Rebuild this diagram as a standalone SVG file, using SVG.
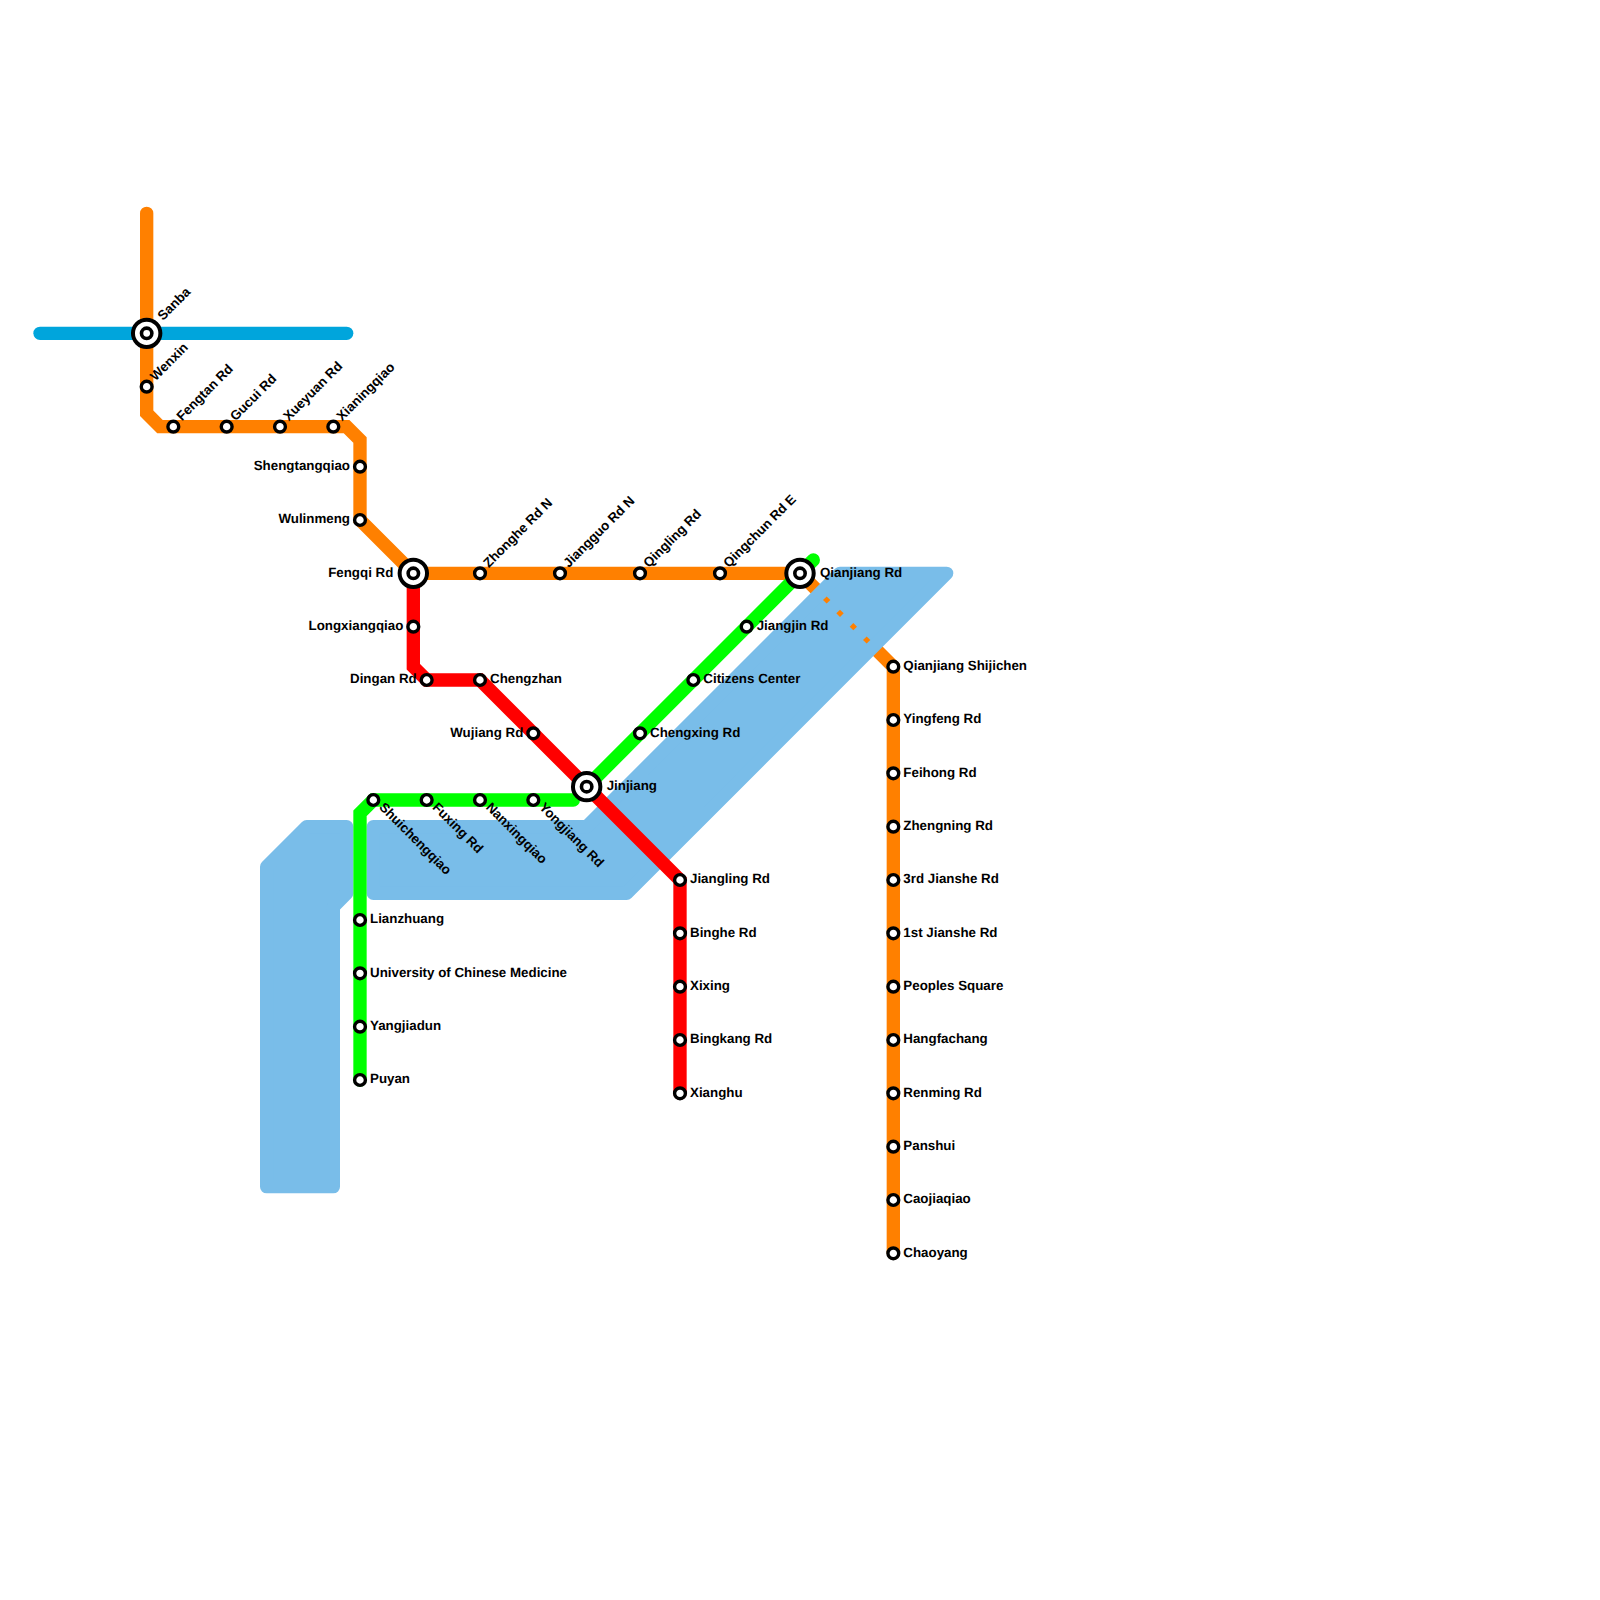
<svg xmlns="http://www.w3.org/2000/svg" width="1600" height="1600" viewBox="0 0 1600 1600">
<style>
.l{fill:none;stroke-width:13.33;stroke-linecap:round;stroke-linejoin:miter}
.w{fill:#79bde9;stroke:#79bde9;stroke-width:13.33;stroke-linejoin:round}
.s{fill:#fff;stroke:#000;stroke-width:3.4}
.o{fill:#fff;stroke:#000;stroke-width:4}
.i{fill:#fff;stroke:#000;stroke-width:3.6}
text{font-family:"Liberation Sans",Arial,sans-serif;font-size:13.33px;font-weight:700;fill:#000;text-rendering:geometricPrecision}
.e{text-anchor:end}
</style>
<defs>
<g id="st"><circle class="s" r="5.4"/></g>
<g id="ic"><circle class="o" r="13.7"/><circle class="i" r="5.2"/></g>
</defs>
<g id="connectors">
<path class="l" stroke="#ff8000" d="M800 573.33L893.33 666.67V1253.33"/>
<path class="w" d="M266.67 866.67L306.67 826.67H346.67V893.33L333.33 906.67V1186.67H266.67Z"/>
<path class="w" d="M373.33 826.67H586.67L840 573.33H946.67L626.67 893.33H373.33Z"/>
<path class="l" stroke="#00a5dc" d="M40 333.33H346.67"/>
<path class="l" stroke="#ff8000" d="M146.67 213.33V413.33L160 426.67H346.67L360 440V520L413.33 573.33H800"/>
<path class="l" stroke="#ff0000" d="M413.33 573.33V666.67L426.67 680H480L680 880V1093.33"/>
<path class="l" stroke="#00ff00" d="M360 1080V813.33L373.33 800H573.33M586.67 786.67L813.33 560"/>
<g fill="#ff8000"><path d="M826.67 596.4L830.4 600L826.67 603.6L823 600Z"/><path d="M840 609.7L843.7 613.33L840 617L836.3 613.33Z"/><path d="M853.33 623L857 626.67L853.33 630.3L849.7 626.67Z"/><path d="M866.67 636.4L870.3 640L866.67 643.6L863 640Z"/></g>
</g>
<g id="stations">
<g id="sanba"><use href="#ic" x="146.67" y="333.33"/><text transform="translate(163 321) rotate(-45)">Sanba</text></g>
<g id="wenxin"><use href="#st" x="146.67" y="386.67"/><text transform="translate(155.5 381.5) rotate(-45)">Wenxin</text></g>
<g id="fengtan"><use href="#st" x="173.33" y="426.67"/><text transform="translate(182 421.5) rotate(-45)">Fengtan Rd</text></g>
<g id="gucui"><use href="#st" x="226.67" y="426.67"/><text transform="translate(235.4 421.5) rotate(-45)">Gucui Rd</text></g>
<g id="xueyuan"><use href="#st" x="280" y="426.67"/><text transform="translate(288.7 421.5) rotate(-45)">Xueyuan Rd</text></g>
<g id="xianingqiao"><use href="#st" x="333.33" y="426.67"/><text transform="translate(342 421.5) rotate(-45)">Xianingqiao</text></g>
<g id="shengtangqiao"><use href="#st" x="360" y="466.67"/><text class="e" x="350" y="470">Shengtangqiao</text></g>
<g id="wulinmeng"><use href="#st" x="360" y="520"/><text class="e" x="350" y="523.33">Wulinmeng</text></g>
<g id="fengqi"><use href="#ic" x="413.33" y="573.33"/><text class="e" x="393.33" y="576.67">Fengqi Rd</text></g>
<g id="zhonghe"><use href="#st" x="480" y="573.33"/><text transform="translate(488.7 568.2) rotate(-45)">Zhonghe Rd N</text></g>
<g id="jiangguo"><use href="#st" x="560" y="573.33"/><text transform="translate(568.7 568.2) rotate(-45)">Jiangguo Rd N</text></g>
<g id="qingling"><use href="#st" x="640" y="573.33"/><text transform="translate(648.7 568.2) rotate(-45)">Qingling Rd</text></g>
<g id="qingchun"><use href="#st" x="720" y="573.33"/><text transform="translate(728.7 568.2) rotate(-45)">Qingchun Rd E</text></g>
<g id="qianjiang"><use href="#ic" x="800" y="573.33"/><text x="820" y="576.67">Qianjiang Rd</text></g>
<g id="longxiangqiao"><use href="#st" x="413.33" y="626.67"/><text class="e" x="403.33" y="630">Longxiangqiao</text></g>
<g id="dingan"><use href="#st" x="426.67" y="680"/><text class="e" x="416.67" y="683.33">Dingan Rd</text></g>
<g id="chengzhan"><use href="#st" x="480" y="680"/><text x="490" y="683.33">Chengzhan</text></g>
<g id="wujiang"><use href="#st" x="533.33" y="733.33"/><text class="e" x="523.33" y="736.67">Wujiang Rd</text></g>
<g id="jinjiang"><use href="#ic" x="586.67" y="786.67"/><text x="606.67" y="790">Jinjiang</text></g>
<g id="jiangling"><use href="#st" x="680" y="880"/><text x="690" y="883.33">Jiangling Rd</text></g>
<g id="binghe"><use href="#st" x="680" y="933.33"/><text x="690" y="936.67">Binghe Rd</text></g>
<g id="xixing"><use href="#st" x="680" y="986.67"/><text x="690" y="990">Xixing</text></g>
<g id="bingkang"><use href="#st" x="680" y="1040"/><text x="690" y="1043.33">Bingkang Rd</text></g>
<g id="xianghu"><use href="#st" x="680" y="1093.33"/><text x="690" y="1096.67">Xianghu</text></g>
<g id="shuichengqiao"><use href="#st" x="373.33" y="800"/><text transform="translate(378.5 808) rotate(45)">Shuichengqiao</text></g>
<g id="fuxing"><use href="#st" x="426.67" y="800"/><text transform="translate(431.8 808) rotate(45)">Fuxing Rd</text></g>
<g id="nanxingqiao"><use href="#st" x="480" y="800"/><text transform="translate(485.2 808) rotate(45)">Nanxingqiao</text></g>
<g id="yongjiang"><use href="#st" x="533.33" y="800"/><text transform="translate(538.5 808) rotate(45)">Yongjiang Rd</text></g>
<g id="lianzhuang"><use href="#st" x="360" y="920"/><text x="370" y="923.33">Lianzhuang</text></g>
<g id="university"><use href="#st" x="360" y="973.33"/><text x="370" y="976.67">University of Chinese Medicine</text></g>
<g id="yangjiadun"><use href="#st" x="360" y="1026.67"/><text x="370" y="1030">Yangjiadun</text></g>
<g id="puyan"><use href="#st" x="360" y="1080"/><text x="370" y="1083.33">Puyan</text></g>
<g id="chengxing"><use href="#st" x="640" y="733.33"/><text x="650" y="736.67">Chengxing Rd</text></g>
<g id="citizens"><use href="#st" x="693.33" y="680"/><text x="703.33" y="683.33">Citizens Center</text></g>
<g id="jiangjin"><use href="#st" x="746.67" y="626.67"/><text x="756.67" y="630">Jiangjin Rd</text></g>
<g id="shijichen"><use href="#st" x="893.33" y="666.67"/><text x="903.33" y="670">Qianjiang Shijichen</text></g>
<g id="yingfeng"><use href="#st" x="893.33" y="720"/><text x="903.33" y="723.33">Yingfeng Rd</text></g>
<g id="feihong"><use href="#st" x="893.33" y="773.33"/><text x="903.33" y="776.67">Feihong Rd</text></g>
<g id="zhengning"><use href="#st" x="893.33" y="826.67"/><text x="903.33" y="830">Zhengning Rd</text></g>
<g id="jianshe3"><use href="#st" x="893.33" y="880"/><text x="903.33" y="883.33">3rd Jianshe Rd</text></g>
<g id="jianshe1"><use href="#st" x="893.33" y="933.33"/><text x="903.33" y="936.67">1st Jianshe Rd</text></g>
<g id="peoples"><use href="#st" x="893.33" y="986.67"/><text x="903.33" y="990">Peoples Square</text></g>
<g id="hangfachang"><use href="#st" x="893.33" y="1040"/><text x="903.33" y="1043.33">Hangfachang</text></g>
<g id="renming"><use href="#st" x="893.33" y="1093.33"/><text x="903.33" y="1096.67">Renming Rd</text></g>
<g id="panshui"><use href="#st" x="893.33" y="1146.67"/><text x="903.33" y="1150">Panshui</text></g>
<g id="caojiaqiao"><use href="#st" x="893.33" y="1200"/><text x="903.33" y="1203.33">Caojiaqiao</text></g>
<g id="chaoyang"><use href="#st" x="893.33" y="1253.33"/><text x="903.33" y="1256.67">Chaoyang</text></g>
</g>
</svg>
